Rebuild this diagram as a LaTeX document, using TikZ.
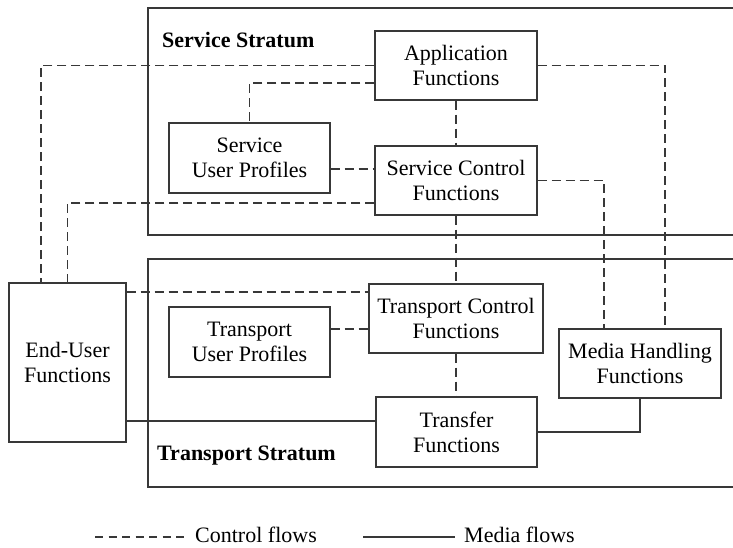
\documentclass[tikz,border=0pt]{standalone}
\usepackage{fontspec}
\setmainfont{Liberation Serif}
\definecolor{linegray}{gray}{0.22}
\begin{document}
\begin{tikzpicture}[x=1pt,y=-1pt,
  every node/.style={font=\fontsize{22}{25}\selectfont},
  fn/.style={draw=linegray, line width=1.2pt, align=center, inner sep=0pt,
             minimum width=162pt, minimum height=69pt},
  stratum/.style={draw=linegray, line width=1.2pt},
  title/.style={font=\fontsize{22}{25}\selectfont\bfseries, anchor=base west, inner sep=0pt},
  legendtext/.style={anchor=base west, inner sep=0pt},
  ctrl/.style={draw=linegray, line width=1.1pt, dash pattern=on 9pt off 5pt},
  media/.style={draw=linegray, line width=1.1pt}]
\useasboundingbox (0,0) rectangle (733,548);

% strata frames, open towards the right edge
\draw[stratum] (733,8) -| (148,235) -- (733,235);
\draw[stratum] (733,259) -| (148,487) -- (733,487);
\node[title] (sst) at (162,48) {Service Stratum};
\node[title] (tst) at (157,460) {Transport Stratum};

% functional blocks
\node[fn] (app) at (456,65.5) {Application\\Functions};
\node[fn] (scf) at (456,180.5) {Service Control\\Functions};
\node[fn, minimum width=161pt, minimum height=70pt] (sup) at (249.5,158) {Service\\User Profiles};
\node[fn, minimum width=174pt] (tcf) at (456,318.5) {Transport Control\\Functions};
\node[fn, minimum width=161pt, minimum height=70pt] (tup) at (249.5,342) {Transport\\User Profiles};
\node[fn, minimum width=161pt, minimum height=70pt] (xfer) at (456.5,432) {Transfer\\Functions};
\node[fn] (mh) at (640,363.5) {Media Handling\\Functions};
\node[fn, minimum width=117pt, minimum height=159pt] (eu) at (67.5,362.5) {End-User\\Functions};

% control flows
\draw[ctrl] (app.west) -| ([xshift=-26.5pt]eu.north);
\draw[ctrl] ([yshift=-17.5pt]app.west) -| (sup.north);
\draw[ctrl] ([yshift=-11pt]sup.east) -- ([yshift=-11pt]sup.east -| scf.west);
\draw[ctrl] (app.south) -- (scf.north);
\draw[ctrl] ([yshift=-22.5pt]scf.west) -| (eu.north);
\draw[ctrl] (app.east) -| ([xshift=25pt]mh.north);
\draw[ctrl] (scf.east) -| ([xshift=-36pt]mh.north);
\draw[ctrl] (scf.south) -- (tcf.north);
\draw[ctrl] ([yshift=70.5pt]eu.east) -- ([yshift=70.5pt]eu.east -| tcf.west);
\draw[ctrl] ([yshift=13pt]tup.east) -- ([yshift=13pt]tup.east -| tcf.west);
\draw[ctrl] (tcf.south) -- (tcf.south |- xfer.north);

% media flows
\draw[media] ([yshift=-58.5pt]eu.east) -- ([yshift=-58.5pt]eu.east -| xfer.west);
\draw[media] (xfer.east) -| (mh.south);

% legend
\coordinate (lc1) at (95,537);
\coordinate (lc2) at (186,537);
\coordinate (lm1) at (363,537);
\coordinate (lm2) at (455,537);
\draw[ctrl, dash pattern=on 8pt off 5.5pt] (lc1) -- (lc2);
\node[legendtext] (lctext) at (195,542) {Control flows};
\draw[media] (lm1) -- (lm2);
\node[legendtext] (lmtext) at (464,542) {Media flows};
\end{tikzpicture}
\end{document}
